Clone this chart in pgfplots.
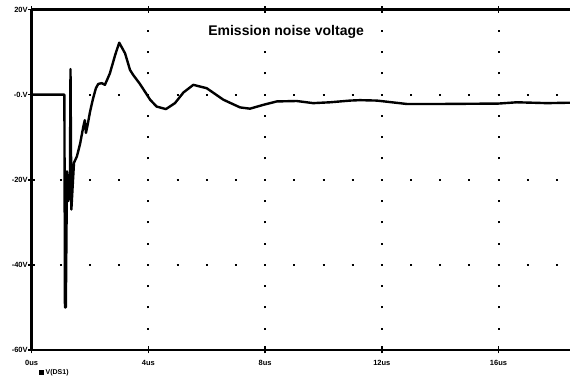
\documentclass[border=0pt]{standalone}
\usepackage{fontspec}
\setmainfont{Liberation Sans}
\usepackage{pgfplots}
\pgfplotsset{compat=1.18}
\begin{document}
\begin{tikzpicture}
\useasboundingbox (-31.7pt,-29pt) rectangle (538.3pt,350pt);
\begin{axis}[
  at={(0pt,0pt)}, anchor=south west,
  scale only axis,
  width=538.3pt, height=340.5pt,
  xmin=0, xmax=18.45, ymin=-60, ymax=20,
  axis line style={draw=none},
  xtick={0,4,8,12,16},
  xticklabels={0us,4us,8us,12us,16us},
  ytick={-60,-40,-20,0,20},
  yticklabels={-60V,-40V,-20V,-0.V,20V},
  xtick pos=both, ytick pos=left,
  tick align=center,
  major tick length=7pt,
  tick style={line width=1.6pt, black},
  tick label style={font=\bfseries\fontsize{7.5}{8}\selectfont},
  xticklabel style={yshift=-3pt},
  yticklabel style={xshift=3pt},
  grid=major,
  x grid style={line width=2pt, dash pattern=on 2pt off 19.28pt, dash phase=1pt, black},
  y grid style={line width=2pt, dash pattern=on 2pt off 27.18pt, dash phase=1pt, black},
  clip=false,
]
\draw[line width=2.6pt, black] (axis cs:0,20) -- (axis cs:18.45,20);
\draw[line width=2.6pt, black] (axis cs:0,-60) -- (axis cs:18.45,-60);
\draw[line width=2.6pt, black] (axis cs:0,-60) -- (axis cs:0,20);
\addplot[black, line width=2.4pt, line join=round] coordinates {
(0,0) (1.12,0) (1.14,-50) (1.17,-50) (1.21,-18) (1.26,-25) (1.31,-20) (1.33,6) (1.36,-27) (1.40,-22) (1.45,-16) (1.55,-14.5) (1.66,-11.5) (1.77,-7.5) (1.82,-6) (1.86,-9) (1.92,-7) (2.0,-4) (2.1,-1) (2.2,1.5) (2.28,2.5) (2.40,2.7) (2.51,2.3) (2.68,5) (2.86,9.3) (3.0,12.2) (3.2,9.7) (3.37,5.8) (3.48,4.6) (3.71,2.5) (3.9,0.5) (4.06,-1.2) (4.28,-2.8) (4.6,-3.4) (4.91,-2.0) (5.2,0.5) (5.54,2.3) (6.0,1.5) (6.57,-1.2) (7.14,-3.0) (7.48,-3.3) (7.94,-2.4) (8.4,-1.6) (9.08,-1.5) (9.65,-2.0) (10.23,-1.8) (10.91,-1.4) (11.25,-1.3) (11.83,-1.4) (12.86,-2.2) (14.0,-2.2) (16.0,-2.1) (16.63,-1.8) (17.66,-2.0) (18.45,-1.9)
};
\node[font=\bfseries\fontsize{14}{16}\selectfont] at (axis cs:8.72,14.7) {Emission noise voltage};
\end{axis}
\node[anchor=west, font=\bfseries\fontsize{7}{8}\selectfont] at (4pt,-23pt) {\rule{4.5pt}{4.5pt}\ V(DS1)};
\end{tikzpicture}
\end{document}
